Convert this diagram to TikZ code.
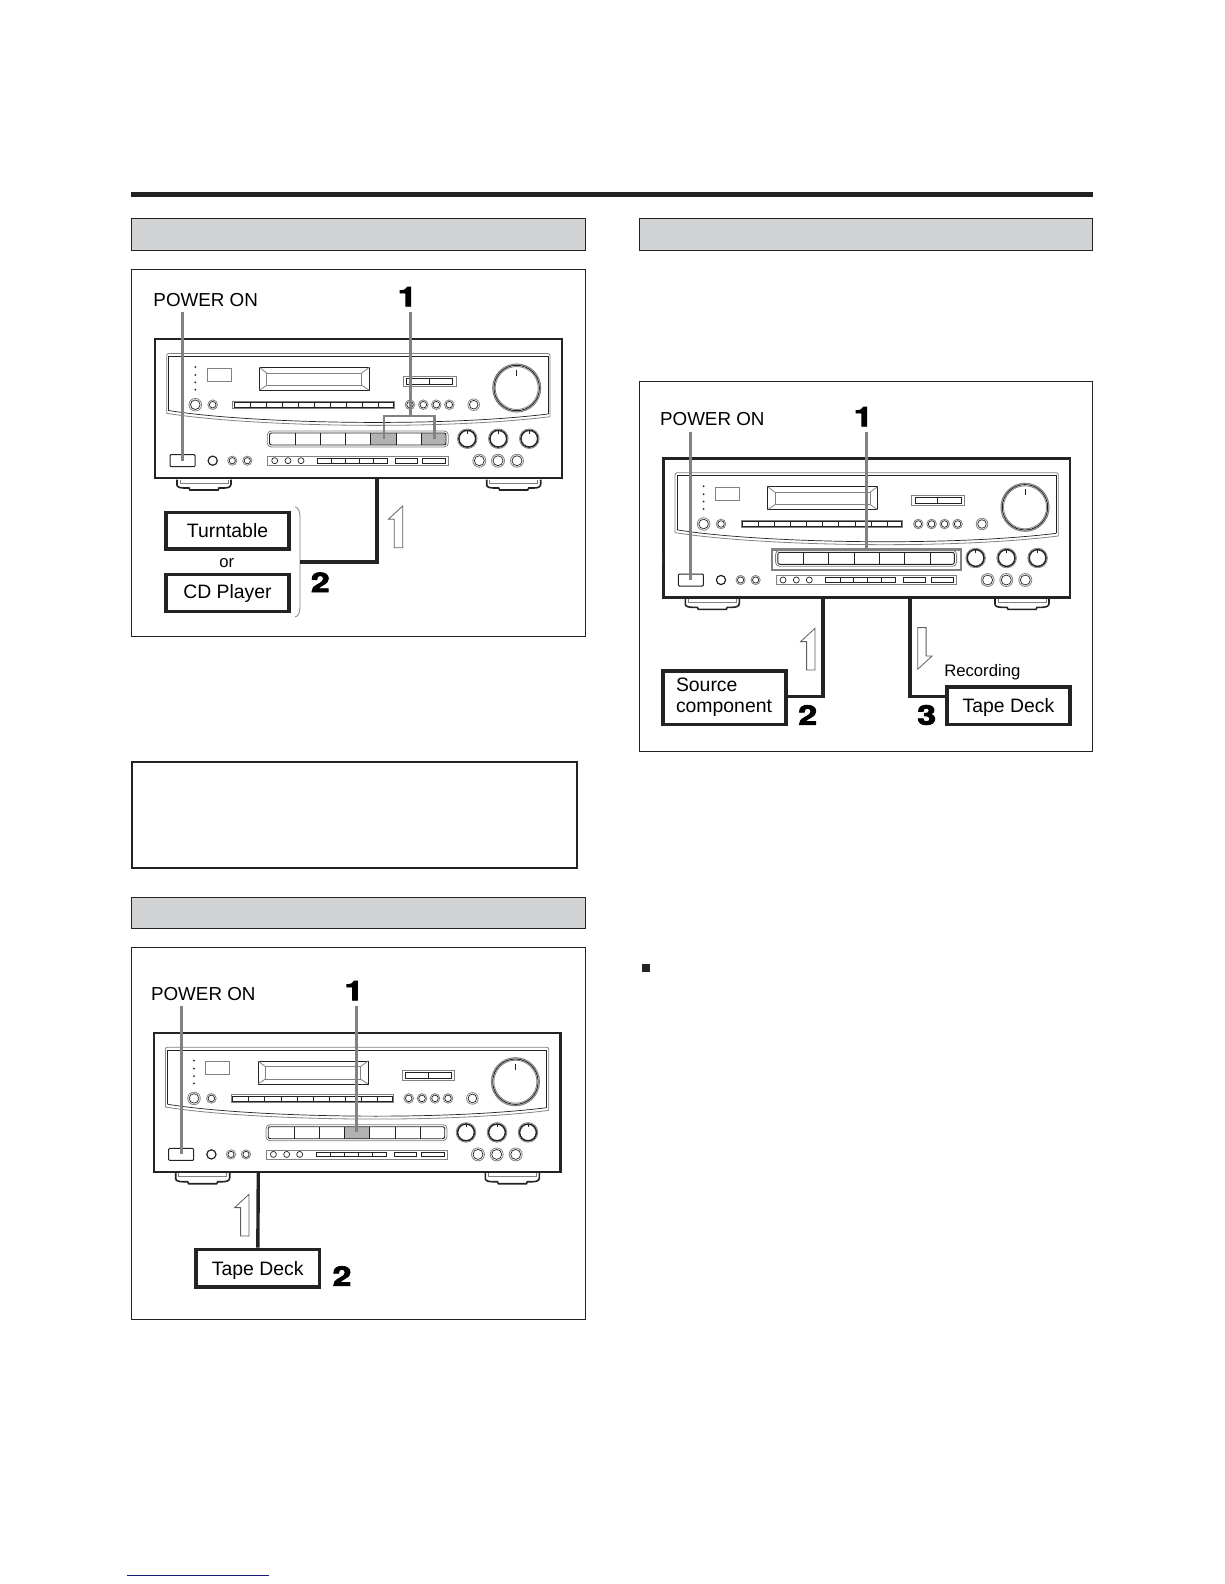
\documentclass[tikz,border=0pt]{standalone}
\usepackage{fontspec}
\setmainfont{Liberation Sans}
\newfontfamily\numfont[UprightFont={* Bold},FakeBold=3]{TeX Gyre Heros}
\usepackage{xcolor}
\definecolor{paneldark}{RGB}{35,35,35}
\definecolor{panelgray}{RGB}{130,130,130}
\definecolor{arrowgray}{RGB}{95,95,95}
\definecolor{barfill}{RGB}{210,211,212}
\definecolor{litgray}{RGB}{178,178,178}
\definecolor{linkblue}{RGB}{25,25,125}
\newcommand{\stepdigit}[1]{\scalebox{1.25}[1]{\numfont #1}}
\newcommand{\ringknob}[3]{%
    \draw[panelthin] (#1,#2) circle (#3);
    \draw[panelink] (#1,#2) circle ({#3-1.5});}
\tikzset{
    pageline/.style={line width=1pt,draw=paneldark},
    headbar/.style={pageline,fill=barfill},
    bodybox/.style={draw=paneldark,fill=white,line width=2.4pt,inner sep=0pt,outer sep=0pt,anchor=north west,
        minimum width=406.5pt,minimum height=139pt},
    panelthin/.style={draw=panelgray,line width=0.8pt},
    panelink/.style={draw=paneldark,line width=0.7pt},
    hardknob/.style={draw=paneldark,line width=1.5pt},
    devbox/.style={draw=paneldark,fill=white,line width=3.6pt,inner sep=0pt,
        font=\fontsize{19.4}{21.3}\selectfont},
    namebox/.style={devbox,text height=13.8pt,text depth=0pt},
    powerlabel/.style={inner sep=0pt,font=\fontsize{18.8}{19}\selectfont},
    smalllabel/.style={inner sep=0pt,font=\fontsize{16.7}{17}\selectfont},
    stepnum/.style={inner sep=0pt,font=\fontsize{27}{27}\selectfont},
    wire/.style={draw=paneldark,line width=3.4pt},
    pointer/.style={draw=panelgray,line width=2.8pt},
    hollow/.style={draw=arrowgray,line width=0.8pt,fill=white},
    pics/halfarrow/.style={code={
        \draw[hollow] (0,0) -- (-14.4,13.3) -- (-8.4,13.3) -- (-8.4,41.7) -- (0,41.7) -- cycle;
    }},
    pics/receiver/.style={code={
        \node[bodybox] (-body) at (1.2,1.2) {};
        % feet
        \foreach \fx in {23,332.7} {
            \draw[panelink,line width=1.6pt] (\fx,141.5) -- (\fx,147) .. controls (\fx,149) and (\fx+3,150) .. (\fx+7,150)
                -- (\fx+12,150) -- (\fx+13,152) -- (\fx+41,152) -- (\fx+42,150) -- (\fx+47,150)
                .. controls (\fx+51,150) and (\fx+54,149) .. (\fx+54,146) -- (\fx+54,141.5);
            \draw[panelthin] (\fx+3,141.5) -- (\fx+3,145) -- (\fx+51,145) -- (\fx+51,141.5);
        }
        % upper panel
        \draw[panelthin,rounded corners=2pt] (12.7,75.3) -- (12.7,15.5) -- (396,15.5) -- (396,78.7);
        \draw[panelthin] (12.7,75.3) .. controls (90,88) and (280,93) .. (396,78.7);
        \draw[panelink] (14.7,72.5) -- (14.7,18.5) -- (394,18.5) -- (394,76);
        \draw[panelink] (14.7,72.5) .. controls (90,85) and (280,90) .. (394,76);
        \foreach \dy in {29,37,44.3,51.7} {
            \fill[paneldark] (41.3,\dy) circle (1);
        }
        \draw[panelthin] (53,30) rectangle (77,43);
        \draw[panelink] (105.3,29.3) rectangle (215.3,52.3);
        \draw[panelthin] (112.7,35) rectangle (207.7,47.3);
        \draw[panelthin] (105.3,29.3) -- (112.7,35) (215.3,29.3) -- (207.7,35)
            (105.3,52.3) -- (112.7,47.3) (215.3,52.3) -- (207.7,47.3);
        \draw[panelthin] (249.3,38.3) rectangle (302,48.3);
        \draw[panelink,line width=0.9pt] (252.7,40.3) rectangle (298.7,46.3) (275.3,40.3) -- (275.3,46.3);
        % tuning knob
        \draw[panelthin,line width=1.1pt] (362.7,50) circle (24);
        \draw[panelink,line width=0.9pt] (362.7,50) circle (22.7);
        \draw[panelthin] (362.7,50) circle (21.5);
        \draw[panelink,line width=0.9pt] (362.7,32) -- (362.7,38);
        % first row
        \ringknob{41.3}{66.7}{6.3}
        \ringknob{58.7}{66.7}{4.8}
        \draw[panelthin] (78.7,63) rectangle (240.3,70.5);
        \draw[panelink] (80,64.3) rectangle (239.5,69.2);
        \foreach \dx in {96,112,128.3,144.5,160.5,176.5,192.7,208.7,224.7} {
            \draw[panelink] (\dx,64.3) -- (\dx,69.2);
        }
        \foreach \dx in {256,269.3,282.3,295.3} {
            \ringknob{\dx}{66.7}{4.8}
        }
        \ringknob{319.7}{66.7}{5.8}
        % selector row
        \draw[panelthin,rounded corners=4pt] (113.3,93) rectangle (294.3,109);
        \foreach \sa/\sb in {#1} {
            \fill[litgray] (\sa,95) rectangle (\sb,107);
        }
        \draw[panelink,line width=0.9pt,rounded corners=2pt] (115.5,95) rectangle (292,107);
        \foreach \dx in {141.3,166.3,191.7,216.7,242.3,267.7} {
            \draw[panelink] (\dx,95) -- (\dx,107);
        }
        \foreach \dx in {313.3,344.3,375.3} {
            \draw[panelthin] (\dx,100.7) circle (9.8);
            \draw[hardknob] (\dx,100.7) circle (8.4);
            \draw[panelink] (\dx,92.5) -- (\dx,95.5);
        }
        % third row
        \node[draw=paneldark,line width=1pt,rounded corners=1pt,inner sep=0pt,minimum width=25pt,minimum height=12pt] (-power) at (28.5,122.7) {};
        \draw[panelink,line width=1.2pt] (58.7,122.7) circle (4.6);
        \ringknob{78.3}{122.7}{4.6}
        \ringknob{93.3}{122.7}{4.6}
        \draw[panelthin] (113.7,118.3) rectangle (294.3,127.2);
        \foreach \dx in {120.7,134,147} {
            \draw[panelink] (\dx,122.7) circle (3);
        }
        \draw[panelink,line width=0.9pt] (163.3,120.3) rectangle (233.3,125) (241.3,120.3) rectangle (263.3,125) (268.7,120.3) rectangle (291.3,125);
        \foreach \dx in {177.7,191.3,205.3,219.3} {
            \draw[panelink] (\dx,120.3) -- (\dx,125);
        }
        \foreach \dx in {325.3,344,363} {
            \ringknob{\dx}{122.7}{6.5}
        }
    }},
}

\begin{document}
\begin{tikzpicture}[x=1pt,y=-1pt]
    \useasboundingbox (0,0) rectangle (1224,1584);
    % page furniture
    \fill[paneldark] (131,192) rectangle (1093,197);
    \draw[headbar] (131.5,218.5) rectangle (585.5,250.5);
    \draw[headbar] (639.5,218.5) rectangle (1092.5,250.5);
    \draw[headbar] (131.5,897) rectangle (585.5,928.5);
    \draw[pageline] (131.5,269.5) rectangle (585.5,636.5);
    \draw[pageline] (639.5,381.5) rectangle (1092.5,751);
    \draw[pageline] (131.5,947.5) rectangle (585.5,1319);
    \draw[pageline,line width=2pt] (132,762) rectangle (577,868);
    \fill[paneldark] (642,964) rectangle (650,972);
    \draw[linkblue,line width=1pt] (127,1575) -- (269,1575);

    % first panel
    \pic (rcvA) at (154,338) {receiver={216.7/242.3,267.7/292}};
    \node[powerlabel] (powerA) at (205.7,300) {POWER ON};
    \node[stepnum] (oneA) at (407.3,296.7) {\stepdigit{1}};
    \coordinate (ptrA) at (182.5,312.3);
    \coordinate (ptrsA) at (410.3,312.3);
    \coordinate (splitA) at (410.3,416);
    \coordinate (legLA) at (384,439);
    \coordinate (legRA) at (434.7,439);
    \draw[pointer] (ptrA) -- (rcvA-power.center);
    \draw[pointer] (ptrsA) -- (splitA);
    \draw[pointer] (legLA) |- (splitA) -| (legRA);
    \node[namebox,minimum width=123.4pt,minimum height=36.4pt] (turntable) at (227.5,530.7) {Turntable};
    \node[namebox,text height=11pt,minimum width=123.4pt,minimum height=37pt] (cdplayer) at (227.5,593) {CD Player};
    \node[smalllabel] (orword) at (226.7,563) {or};
    \node[stepnum] (twoA) at (320.3,582.3) {\stepdigit{2}};
    \draw[panelthin] (295,506.7) .. controls (299,508) and (300,512) .. (300,518) -- (300,606)
        .. controls (300,612) and (299,616) .. (295,617);
    \coordinate (braceA) at (300,562);
    \coordinate (jackA) at (377,479);
    \draw[wire] (braceA) -| (jackA);
    \pic at (402.7,506) {halfarrow};

    % second panel
    \pic (rcvB) at (662.3,457.3) {receiver={0/0}};
    \node[powerlabel] (powerB) at (712.3,419.4) {POWER ON};
    \node[stepnum] (oneB) at (863.3,416.7) {\stepdigit{1}};
    \coordinate (ptrB) at (690.8,431.7);
    \coordinate (ptrsB) at (866.7,431.7);
    \coordinate (ringB) at (866.7,549.3);
    \draw[pointer] (ptrB) -- (rcvB-power.center);
    \draw[pointer] (ptrsB) -- (ringB);
    \draw[pointer] (772,549.3) rectangle (961,570);
    \node[devbox,minimum width=123.4pt,minimum height=53.6pt,text width=97pt,align=left] (source) at (724.5,697.5) {Source\\component};
    \node[namebox,minimum width=123.4pt,minimum height=37.6pt] (tapeB) at (1008.5,705.5) {Tape Deck};
    \node[smalllabel] (recording) at (982.3,672.5) {Recording};
    \node[stepnum] (twoB) at (807.7,715) {\stepdigit{2}};
    \node[stepnum] (threeB) at (926.7,715) {\stepdigit{3}};
    \coordinate (jackB) at (823,597.5);
    \coordinate (jackC) at (910,597.5);
    \coordinate (tieB) at (946.7,696.7);
    \draw[wire] (source.east |- 0,696.7) -| (jackB);
    \draw[wire] (tieB) -| (jackC);
    \pic at (815,628.3) {halfarrow};
    \pic[rotate=180] at (917.7,669.3) {halfarrow};

    % third panel
    \pic (rcvC) at (152.7,1031.7) {receiver={192.3/217.3}};
    \node[powerlabel] (powerC) at (203.3,994) {POWER ON};
    \node[stepnum] (oneC) at (354,990.7) {\stepdigit{1}};
    \coordinate (ptrC) at (181.2,1006);
    \coordinate (ptrsC) at (356.7,1006);
    \coordinate (pressC) at (356.7,1131.7);
    \draw[pointer,line width=3.2pt] (ptrC) -- (rcvC-power.center);
    \draw[pointer,line width=3.2pt] (ptrsC) -- (pressC);
    \node[namebox,minimum width=123.3pt,minimum height=37.7pt] (tapeC) at (257.7,1268.2) {Tape Deck};
    \node[stepnum] (twoC) at (342,1276) {\stepdigit{2}};
    \coordinate (jackD) at (258.3,1172.5);
    \draw[wire] (jackD) -- (tapeC);
    \pic at (249,1194.3) {halfarrow};
\end{tikzpicture}
\end{document}
